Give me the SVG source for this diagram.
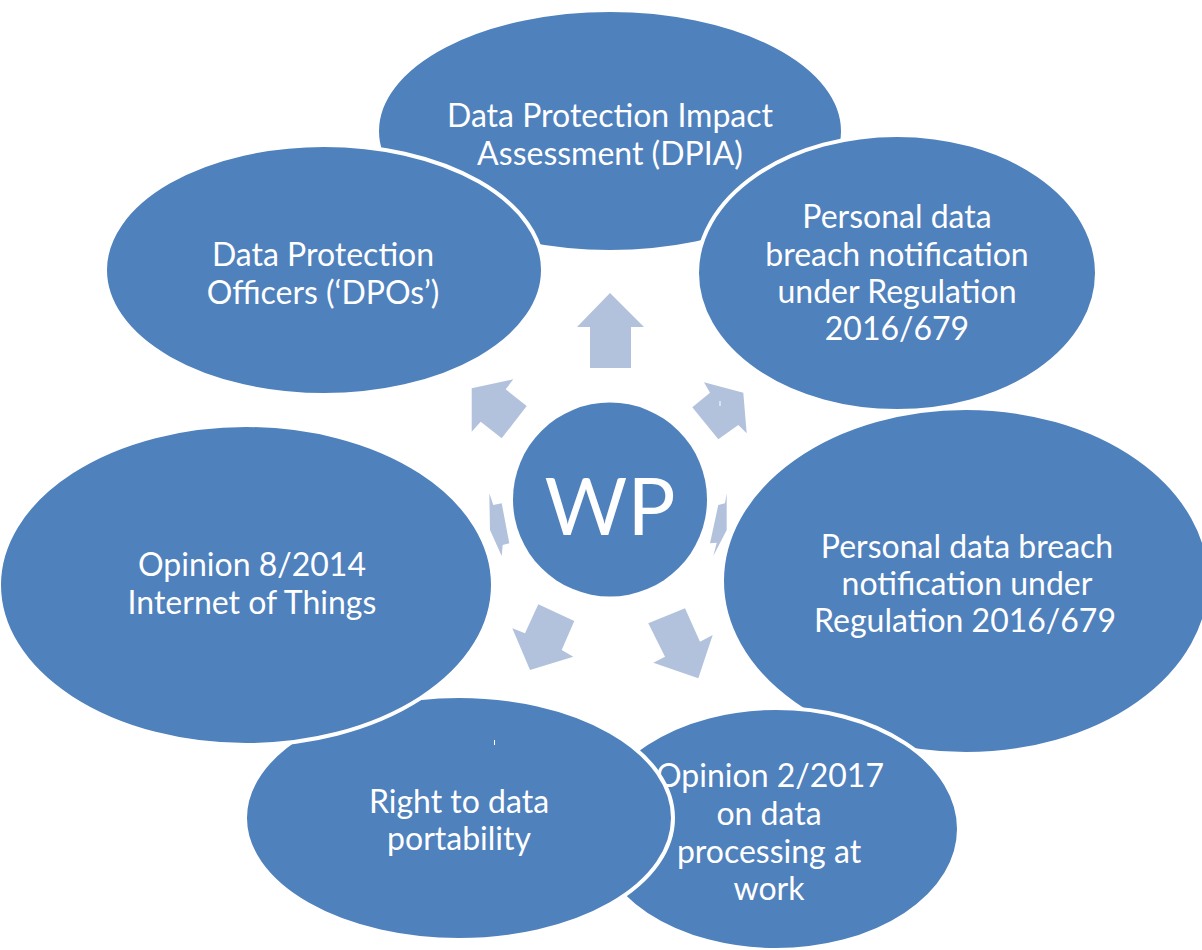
<svg xmlns="http://www.w3.org/2000/svg" width="1202" height="950" viewBox="0 0 1202 950">
<style>
.node{fill:#4F81BD;stroke:#FFFFFF;stroke-width:4}
.t{fill:#FFFFFF;font-family:Lato,"Open Sans","Liberation Sans",sans-serif;font-size:32px;text-anchor:middle}
.wp{fill:#FFFFFF;font-family:Lato,"Open Sans","Liberation Sans",sans-serif;font-size:80px;text-anchor:middle}
.arr{fill:#B3C2DC}
</style>
<rect width="1202" height="950" fill="#FFFFFF"/>
<g id="n-dpia">
<ellipse class="node" cx="610" cy="131" rx="233" ry="121"/>
<text class="t" x="610" y="127">Data Protection Impact</text>
<text class="t" x="610" y="165">Assessment (DPIA)</text>
</g>
<g id="n-breach1">
<ellipse class="node" cx="897" cy="273" rx="200" ry="138"/>
<text class="t" x="897" y="228">Personal data</text>
<text class="t" x="897" y="266">breach notification</text>
<text class="t" x="897" y="303">under Regulation</text>
<text class="t" x="897" y="340">2016/679</text>
</g>
<g id="n-breach2">
<ellipse class="node" cx="966" cy="581" rx="244" ry="173"/>
<text class="t" x="967" y="558">Personal data breach</text>
<text class="t" x="967" y="595">notification under</text>
<text class="t" x="965" y="632">Regulation 2016/679</text>
</g>
<g id="n-opinion2017">
<ellipse class="node" cx="776" cy="829" rx="183" ry="121"/>
<text class="t" x="770" y="787">Opinion 2/2017</text>
<text class="t" x="769" y="825">on data</text>
<text class="t" x="769" y="863">processing at</text>
<text class="t" x="769" y="900">work</text>
</g>
<g id="n-portability">
<ellipse class="node" cx="459" cy="818" rx="214" ry="122"/>
<text class="t" x="459" y="813">Right to data</text>
<text class="t" x="459" y="850">portability</text>
<rect x="494" y="740" width="1" height="5" fill="#FFFFFF"/>
</g>
<g id="n-iot">
<ellipse class="node" cx="246" cy="585" rx="247" ry="160"/>
<text class="t" x="252" y="576">Opinion 8/2014</text>
<text class="t" x="252" y="614">Internet of Things</text>
</g>
<g id="n-dpo">
<ellipse class="node" cx="324" cy="270" rx="219" ry="125"/>
<text class="t" x="323" y="266">Data Protection</text>
<text class="t" x="323" y="304">Officers (‘DPOs’)</text>
</g>
<g id="connectors">
<polygon class="arr" points="610,293 644,327 631,327 631,368 590,368 590,327 577,327"/>
<polygon class="arr" points="471.7,388.3 513.3,379.3 505.7,389.3 526.7,406 501.7,438.3 480.7,421.7 471.7,431.7"/>
<polygon class="arr" points="704,382.3 743.3,392.7 746.7,433.3 738.3,425 718.3,439.3 692.3,407.3 710,392.7"/>
<polygon class="arr" points="489.3,493.3 493.3,505 501.7,503.3 509.3,543.3 502.7,545 501.7,556 490,530"/>
<polygon class="arr" points="726.7,493.3 725,503.3 718.3,505 710,543.3 716.7,542.7 713.3,556 726.7,530"/>
<polygon class="arr" points="538.3,604.3 574.3,621 561.7,650 573.3,656.7 530,670 512.3,628.3 525,633.3"/>
<polygon class="arr" points="648.3,623.3 685,608.3 700,641.7 712.7,635 698.3,678.3 653.3,662.7 665,656.7"/>
<rect x="719.5" y="401" width="1" height="5" fill="#FFFFFF"/>
</g>
<g id="n-wp">
<circle cx="610" cy="499.5" r="97" fill="#4F81BD"/>
<text class="wp" x="610" y="535">WP</text>
</g>
</svg>
